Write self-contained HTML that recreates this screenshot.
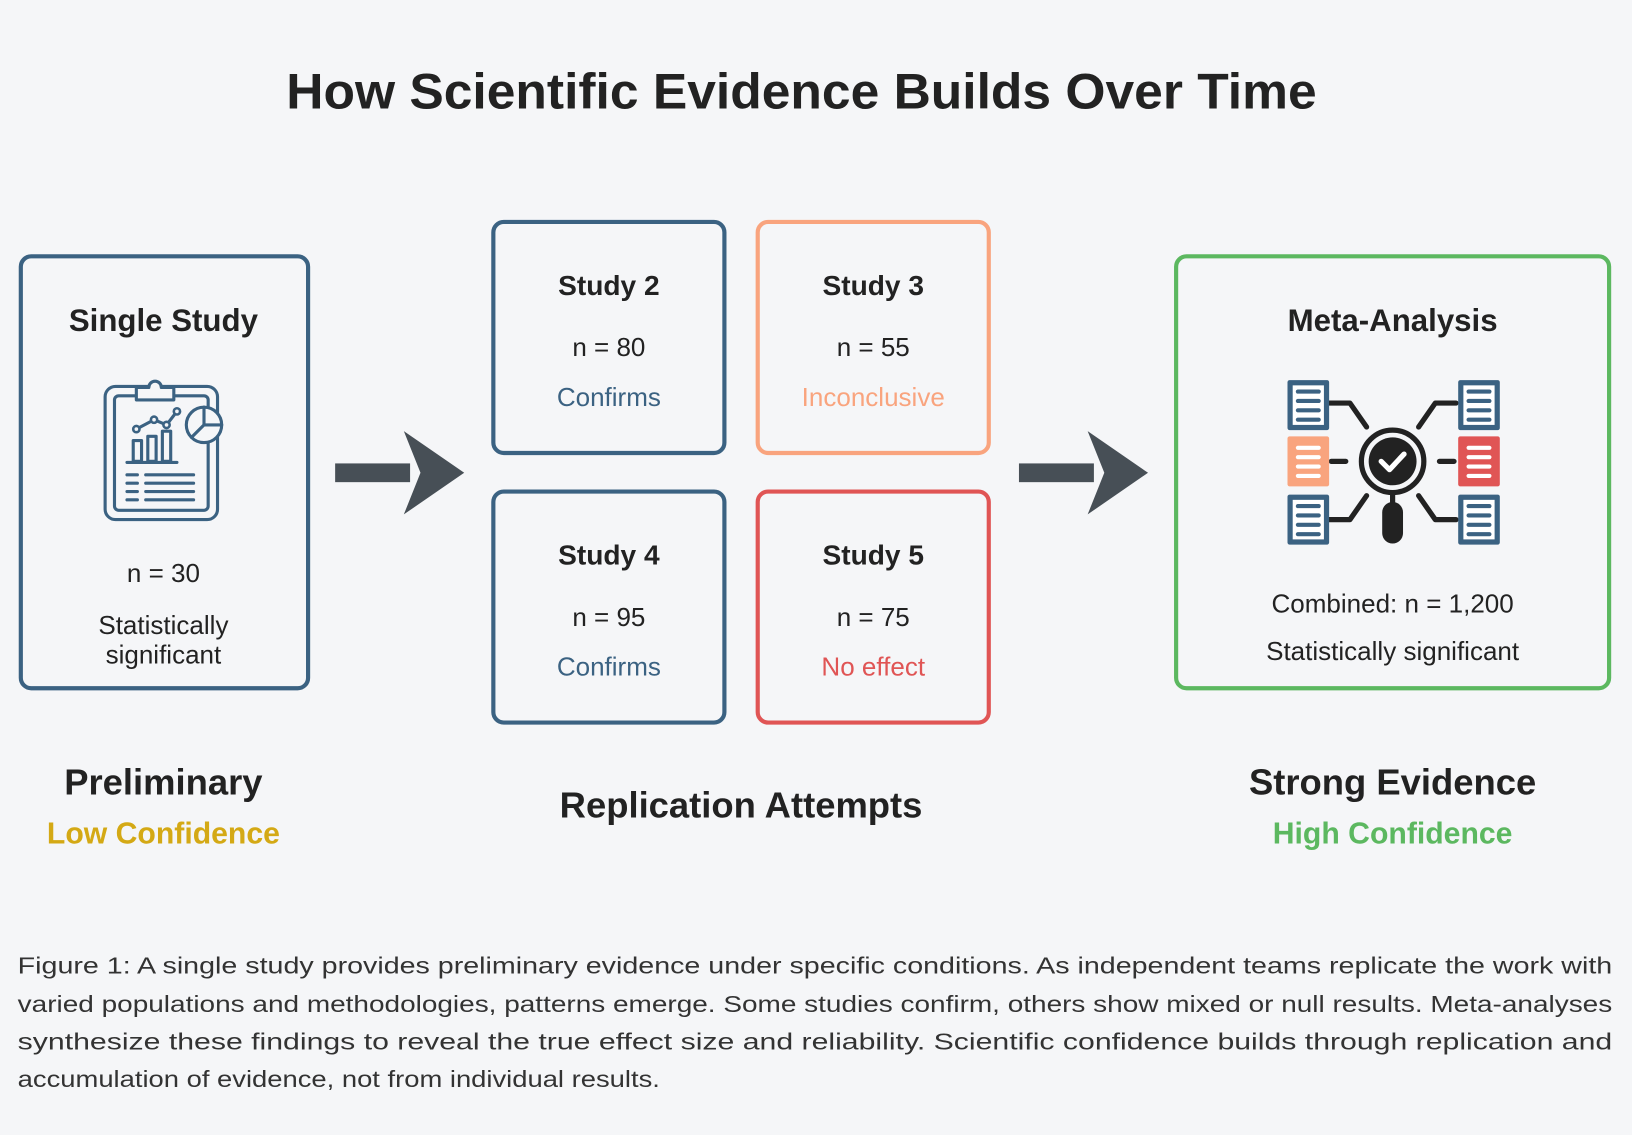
<!DOCTYPE html>
<html><head><meta charset="utf-8"><style>
html,body{margin:0;padding:0;background:#f5f6f8;}
svg{display:block}
text{font-family:"Liberation Sans",sans-serif;}
</style></head><body>
<svg width="1632" height="1135" viewBox="0 0 1568 1090" xmlns="http://www.w3.org/2000/svg">
<defs>
<g id="d"><rect x="0" y="0" width="40" height="48" rx="2" fill="#3b6282"/><rect x="5" y="5" width="30" height="38" fill="#fff"/><g stroke="#3b6282" stroke-width="4" stroke-linecap="round"><line x1="10" y1="11" x2="30" y2="11"/><line x1="10" y1="20" x2="30" y2="20"/><line x1="10" y1="29" x2="30" y2="29"/><line x1="10" y1="38" x2="30" y2="38"/></g></g>
</defs>
<rect width="1568" height="1090" fill="#f5f6f8"/>
<text x="770" y="104" text-anchor="middle" font-size="48" font-weight="bold" fill="#222" textLength="990" lengthAdjust="spacingAndGlyphs">How Scientific Evidence Builds Over Time</text>

<!-- Single study box -->
<rect x="20" y="246" width="276" height="415" rx="10" fill="none" stroke="#3b6282" stroke-width="4"/>
<text x="157" y="318" text-anchor="middle" font-size="30" font-weight="bold" fill="#222">Single Study</text>
<g fill="none" stroke="#3b6282" stroke-width="3" stroke-linecap="round" stroke-linejoin="round">
<rect x="101" y="371" width="108" height="128" rx="10"/>
<rect x="110" y="380" width="90" height="110" rx="4"/>
<path d="M131 384 v-12 h12 a6 6 0 0 1 12 0 h12 v12 z" fill="#f5f6f8"/>
<circle cx="196" cy="408" r="17" fill="#f5f6f8"/>
<path d="M196 391 v17 h17 M196 408 l-12 12"/>
<polyline points="131,412 148,403 160,408 170,395"/>
<rect x="128" y="423" width="8" height="20"/><rect x="142" y="419" width="8" height="24"/><rect x="156" y="414" width="8" height="29"/>
<path d="M122 444 h48 M122 456 h10 M140 456 h46 M122 464 h10 M140 464 h46 M122 472 h10 M140 472 h46 M122 480 h10 M140 480 h46"/>
</g>
<circle cx="131" cy="412" r="3" fill="#f5f6f8" stroke="#3b6282" stroke-width="2.5"/>
<circle cx="148" cy="403" r="3" fill="#f5f6f8" stroke="#3b6282" stroke-width="2.5"/>
<circle cx="160" cy="408" r="3" fill="#f5f6f8" stroke="#3b6282" stroke-width="2.5"/>
<circle cx="170" cy="395" r="3" fill="#f5f6f8" stroke="#3b6282" stroke-width="2.5"/>
<text x="157" y="559" text-anchor="middle" font-size="25" fill="#222">n = 30</text>
<text x="157" y="609" text-anchor="middle" font-size="25" fill="#222">Statistically</text>
<text x="157" y="637" text-anchor="middle" font-size="25" fill="#222">significant</text>

<!-- arrows -->
<g fill="#474f56">
<rect x="322" y="445" width="72" height="18"/><polygon points="388,414 446,454 388,494 404,454"/>
<rect x="979" y="445" width="72" height="18"/><polygon points="1045,414 1103,454 1045,494 1061,454"/>
</g>

<!-- studies -->
<g font-size="25" text-anchor="middle">
<rect x="474" y="213" width="222" height="222" rx="10" fill="none" stroke="#3b6282" stroke-width="4"/>
<text x="585" y="283" font-weight="bold" font-size="27" fill="#222">Study 2</text>
<text x="585" y="342" fill="#222">n = 80</text>
<text x="585" y="390" fill="#3b6282">Confirms</text>

<rect x="728" y="213" width="222" height="222" rx="10" fill="none" stroke="#f9a47e" stroke-width="4"/>
<text x="839" y="283" font-weight="bold" font-size="27" fill="#222">Study 3</text>
<text x="839" y="342" fill="#222">n = 55</text>
<text x="839" y="390" fill="#f9a47e">Inconclusive</text>

<rect x="474" y="472" width="222" height="222" rx="10" fill="none" stroke="#3b6282" stroke-width="4"/>
<text x="585" y="542" font-weight="bold" font-size="27" fill="#222">Study 4</text>
<text x="585" y="601" fill="#222">n = 95</text>
<text x="585" y="649" fill="#3b6282">Confirms</text>

<rect x="728" y="472" width="222" height="222" rx="10" fill="none" stroke="#e05555" stroke-width="4"/>
<text x="839" y="542" font-weight="bold" font-size="27" fill="#222">Study 5</text>
<text x="839" y="601" fill="#222">n = 75</text>
<text x="839" y="649" fill="#e05555">No effect</text>
</g>

<!-- meta -->
<rect x="1130" y="246" width="416" height="415" rx="10" fill="none" stroke="#5cb860" stroke-width="4"/>
<text x="1338" y="318" text-anchor="middle" font-size="30" font-weight="bold" fill="#222">Meta-Analysis</text>
<g stroke="#222" stroke-width="5" fill="none" stroke-linecap="round" stroke-linejoin="round">
<polyline points="1277,387 1297,387 1313,410"/><polyline points="1399,387 1379,387 1363,410"/>
<line x1="1279" y1="443" x2="1293" y2="443"/><line x1="1383" y1="443" x2="1397" y2="443"/>
<polyline points="1277,499 1297,499 1313,476"/><polyline points="1399,499 1379,499 1363,476"/>
<circle cx="1338" cy="443" r="30"/>
<line x1="1338" y1="474" x2="1338" y2="484"/>
</g>
<circle cx="1338" cy="443" r="23" fill="#222"/>
<polyline points="1327,443 1335,451 1349,436" fill="none" stroke="#fff" stroke-width="5" stroke-linecap="round" stroke-linejoin="round"/>
<rect x="1328" y="482" width="20" height="40" rx="10" fill="#222"/>
<use href="#d" x="1237" y="365"/>
<use href="#d" x="1401" y="365"/>
<use href="#d" x="1237" y="475"/>
<use href="#d" x="1401" y="475"/>
<rect x="1237" y="419" width="40" height="48" rx="2" fill="#f9a47e"/>
<rect x="1401" y="419" width="40" height="48" rx="2" fill="#e05555"/>
<g stroke="#fff" stroke-width="4" stroke-linecap="round">
<line x1="1247" y1="430" x2="1267" y2="430"/><line x1="1247" y1="439" x2="1267" y2="439"/><line x1="1247" y1="448" x2="1267" y2="448"/><line x1="1247" y1="457" x2="1267" y2="457"/>
<line x1="1411" y1="430" x2="1431" y2="430"/><line x1="1411" y1="439" x2="1431" y2="439"/><line x1="1411" y1="448" x2="1431" y2="448"/><line x1="1411" y1="457" x2="1431" y2="457"/>
</g>
<text x="1338" y="588" text-anchor="middle" font-size="25" fill="#222">Combined: n = 1,200</text>
<text x="1338" y="634" text-anchor="middle" font-size="25" fill="#222">Statistically significant</text>

<!-- labels -->
<text x="157" y="763" text-anchor="middle" font-size="35" font-weight="bold" fill="#222">Preliminary</text>
<text x="157" y="810" text-anchor="middle" font-size="29" font-weight="bold" fill="#d4a915">Low Confidence</text>
<text x="712" y="785" text-anchor="middle" font-size="35" font-weight="bold" fill="#222">Replication Attempts</text>
<text x="1338" y="763" text-anchor="middle" font-size="35" font-weight="bold" fill="#222">Strong Evidence</text>
<text x="1338" y="810" text-anchor="middle" font-size="29" font-weight="bold" fill="#5cb860">High Confidence</text>

<!-- caption -->
<g font-size="22" fill="#333">
<text x="17" y="935" textLength="1532" lengthAdjust="spacingAndGlyphs">Figure 1: A single study provides preliminary evidence under specific conditions. As independent teams replicate the work with</text>
<text x="17" y="972" textLength="1532" lengthAdjust="spacingAndGlyphs">varied populations and methodologies, patterns emerge. Some studies confirm, others show mixed or null results. Meta-analyses</text>
<text x="17" y="1008" textLength="1532" lengthAdjust="spacingAndGlyphs">synthesize these findings to reveal the true effect size and reliability. Scientific confidence builds through replication and</text>
<text x="17" y="1044" textLength="617" lengthAdjust="spacingAndGlyphs">accumulation of evidence, not from individual results.</text>
</g>
</svg>
</body></html>
